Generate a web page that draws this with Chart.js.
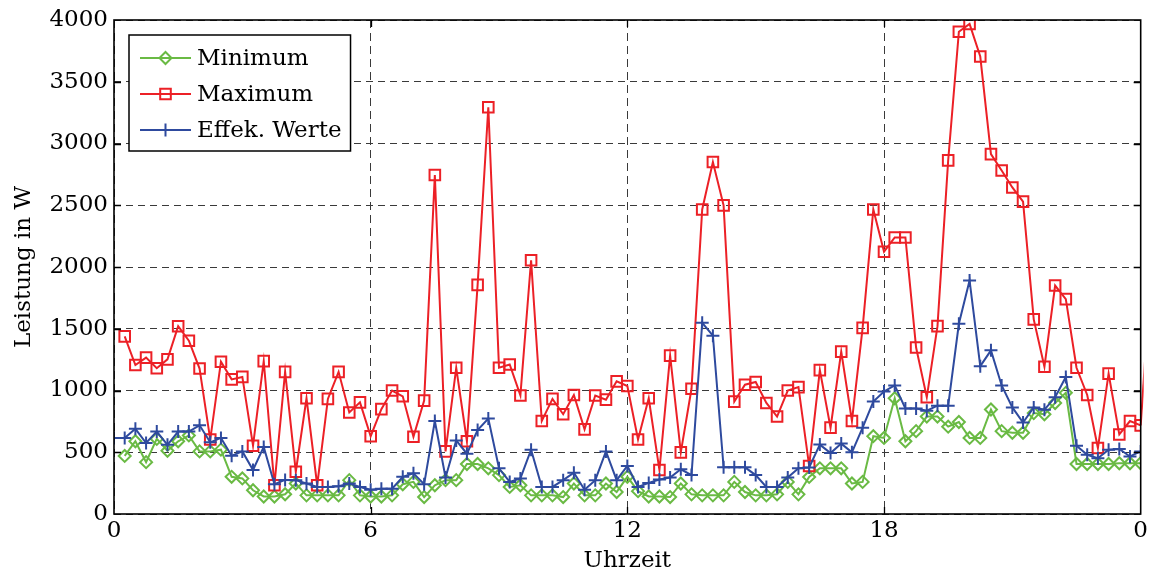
<!DOCTYPE html>
<html>
<head>
<meta charset="utf-8">
<script src="https://cdn.jsdelivr.net/npm/chart.js@4/dist/chart.umd.min.js"></script>
<style>
  html, body { margin: 0; padding: 0; background: #ffffff; }
  canvas { display: block; }
</style>
</head>
<body>
<canvas id="c" width="1151" height="575"></canvas>
<script>
// Leistung über den Tag, 15-Minuten-Raster (Stunden)
const stepHours = 0.25;

// Minimum, Viertelstunden 00:15 ... 24:00
const minimumW = [
  470, 589, 420, 608, 512, 589, 636, 507, 507, 521, 301, 288, 192, 142, 142, 160,
  247, 151, 151, 151, 151, 274, 151, 142, 142, 151, 241, 260, 137, 233, 274, 274,
  405, 405, 370, 315, 219, 233, 151, 151, 151, 137, 247, 151, 151, 247, 178, 301,
  185, 142, 142, 137, 247, 159, 151, 151, 151, 260, 178, 151, 151, 159, 260, 159,
  300, 370, 370, 370, 247, 260, 630, 616, 937, 589, 671, 789, 789, 707, 745, 616,
  616, 846, 671, 658, 658, 817, 808, 899, 981, 405, 405, 405, 405, 411, 411, 411
];

// Maximum, Viertelstunden 00:15 ... 24:00
const maximumW = [
  1438, 1206, 1266, 1180, 1252, 1520, 1403, 1178, 603, 1233, 1090, 1110, 553, 1238, 233, 1151,
  342, 937, 233, 932, 1151, 822, 904, 630, 849, 1000, 953, 625, 918, 2745, 507, 1184,
  589, 1855, 3293, 1184, 1211, 960, 2055, 753, 932, 808, 964, 685, 959, 926, 1074, 1036,
  603, 937, 356, 1282, 499, 1014, 2466, 2850, 2499, 910, 1047, 1069, 899, 789, 1000, 1027,
  389, 1165, 699, 1315, 753, 1507, 2466, 2124, 2239, 2239, 1348, 945, 1521, 2863, 3905, 3968,
  3704, 2914, 2781, 2644, 2529, 1576, 1192, 1850, 1740, 1184, 964, 534, 1137, 644, 753, 718
];
// Übergang in den Folgetag (00:15 des nächsten Tages)
const maximumNextW = 2000;

// Effektivwerte, Viertelstunden 00:00 ... 24:00
const effektivW = [
  615,
  615, 690, 575, 668, 560, 668, 668, 718, 580, 616, 471, 507, 356, 543, 241, 276,
  274, 247, 219, 219, 225, 247, 219, 197, 205, 205, 301, 329, 241, 753, 296, 596,
  488, 680, 773, 370, 260, 288, 521, 219, 219, 274, 334, 197, 274, 507, 274, 389,
  219, 252, 279, 296, 362, 315, 1548, 1444, 378, 378, 378, 315, 219, 219, 296, 370,
  377, 562, 493, 570, 499, 699, 910, 992, 1041, 855, 855, 836, 877, 877, 1540, 1891,
  1197, 1325, 1041, 863, 740, 863, 844, 945, 1110, 553, 479, 452, 521, 526, 466, 507
];

const seriesLabels = ['Minimum', 'Maximum', 'Effek. Werte'];
const xTickLabels = ['0', '6', '12', '18', '0'];
const yTicks = [0, 500, 1000, 1500, 2000, 2500, 3000, 3500, 4000];

const GREEN = 'rgb(106,186,68)';
const RED = 'rgb(236,32,38)';
const BLUE = 'rgb(46,74,158)';
const FONT = "'DejaVu Serif', serif";

const toPoints = (arr, firstIndex) => arr.map((v, i) => ({ x: (i + firstIndex) * stepHours, y: v }));
const maxPts = toPoints(maximumW, 1);

// Rahmen, innenliegende Teilstriche und Legende
const framePlugin = {
  id: 'matlabFrame',
  afterDraw(chart) {
    const { ctx, chartArea: a, scales } = chart;
    const xs = scales.x, ys = scales.y;
    ctx.save();
    ctx.strokeStyle = '#000';
    ctx.lineWidth = 1.3;
    const tl = 7;
    ctx.beginPath();
    yTicks.forEach(v => {
      if (v === ys.min || v === ys.max) return;
      const py = Math.round(ys.getPixelForValue(v)) + 0.5;
      ctx.moveTo(a.left, py); ctx.lineTo(a.left + tl, py);
      ctx.moveTo(a.right, py); ctx.lineTo(a.right - tl, py);
    });
    [6, 12, 18].forEach(v => {
      const px = Math.round(xs.getPixelForValue(v)) + 0.5;
      ctx.moveTo(px, a.bottom); ctx.lineTo(px, a.bottom - tl);
      ctx.moveTo(px, a.top); ctx.lineTo(px, a.top + tl);
    });
    ctx.stroke();
    ctx.lineWidth = 1.6;
    ctx.strokeRect(a.left, a.top, a.right - a.left, a.bottom - a.top);

    // Legende
    const bx = a.left + 15, by = a.top + 15;
    const rowH = 36, padTop = 23;
    ctx.font = '23px ' + FONT;
    const textX = bx + 68;
    let maxW = 0;
    seriesLabels.forEach(t => { maxW = Math.max(maxW, ctx.measureText(t).width); });
    const bw = textX - bx + maxW + 9;
    const bh = 116;
    ctx.fillStyle = '#fff';
    ctx.fillRect(bx, by, bw, bh);
    ctx.strokeStyle = '#000';
    ctx.lineWidth = 1.5;
    ctx.strokeRect(bx, by, bw, bh);
    chart.data.datasets.slice(0, 3).forEach((ds, i) => {
      const cy = by + padTop + i * rowH;
      ctx.strokeStyle = ds.borderColor;
      ctx.lineWidth = ds.borderWidth;
      ctx.beginPath();
      ctx.moveTo(bx + 11, cy); ctx.lineTo(bx + 62, cy);
      ctx.stroke();
      ctx.fillStyle = 'rgba(0,0,0,0)';
      ctx.strokeStyle = ds.pointBorderColor;
      ctx.lineWidth = ds.pointBorderWidth;
      Chart.helpers.drawPoint(ctx, {
        pointStyle: ds.pointStyle, radius: ds.pointRadius, borderWidth: ds.pointBorderWidth, rotation: 0
      }, bx + 36.5, cy);
      ctx.fillStyle = '#000';
      ctx.textBaseline = 'middle';
      ctx.textAlign = 'left';
      ctx.fillText(ds.label, textX, cy + 1);
    });
    ctx.restore();
  }
};

new Chart(document.getElementById('c'), {
  type: 'line',
  data: {
    datasets: [
      {
        label: seriesLabels[0], data: toPoints(minimumW, 1), order: 2,
        borderColor: GREEN, borderWidth: 2, pointStyle: 'rectRot', pointRadius: 6,
        pointBorderWidth: 2, pointBorderColor: GREEN, pointBackgroundColor: 'rgba(0,0,0,0)',
        backgroundColor: 'rgba(0,0,0,0)', tension: 0
      },
      {
        label: seriesLabels[1], data: maxPts, order: 1,
        borderColor: RED, borderWidth: 2, pointStyle: 'rect', pointRadius: 7.5,
        pointBorderWidth: 2, pointBorderColor: RED, pointBackgroundColor: 'rgba(0,0,0,0)',
        backgroundColor: 'rgba(0,0,0,0)', tension: 0
      },
      {
        label: seriesLabels[2], data: toPoints(effektivW, 0), order: 0,
        borderColor: BLUE, borderWidth: 2, pointStyle: 'cross', pointRadius: 6.5,
        pointBorderWidth: 2, pointBorderColor: BLUE, pointBackgroundColor: BLUE,
        backgroundColor: 'rgba(0,0,0,0)', tension: 0
      },
      {
        label: seriesLabels[1], order: 1,
        data: [maxPts[maxPts.length - 1], { x: (maximumW.length + 1) * stepHours, y: maximumNextW }],
        borderColor: RED, borderWidth: 2, pointRadius: 0, clip: 3, tension: 0
      }
    ]
  },
  options: {
    responsive: false,
    animation: false,
    devicePixelRatio: 1,
    layout: { padding: { top: 20, right: 10, left: 0, bottom: 0 } },
    plugins: { legend: { display: false }, tooltip: { enabled: false } },
    scales: {
      x: {
        type: 'linear', min: 0, max: 24,
        afterFit: s => { s.height = 61; },
        afterBuildTicks: s => { s.ticks = xTickLabels.map((_, i) => ({ value: i * 6 })); },
        ticks: {
          autoSkip: false, maxRotation: 0, padding: 3, color: '#000',
          font: { family: FONT, size: 23 },
          callback: (v, i) => xTickLabels[i]
        },
        grid: { color: '#3a3a3a', lineWidth: 1, drawTicks: false },
        border: { display: false, dash: [8, 5] },
        title: { display: true, text: 'Uhrzeit', color: '#000', font: { family: FONT, size: 23 }, padding: { top: 0, bottom: 0 } }
      },
      y: {
        min: 0, max: 4000,
        afterFit: s => { s.width = 114; },
        afterBuildTicks: s => { s.ticks = yTicks.map(v => ({ value: v })); },
        ticks: {
          padding: 6, color: '#000', font: { family: FONT, size: 23 },
          callback: v => String(v)
        },
        grid: { color: '#3a3a3a', lineWidth: 1, drawTicks: false },
        border: { display: false, dash: [7, 5] },
        title: { display: true, text: 'Leistung in W', color: '#000', font: { family: FONT, size: 23 }, padding: { top: 10, bottom: 0 } }
      }
    }
  },
  plugins: [framePlugin]
});
</script>
</body>
</html>
